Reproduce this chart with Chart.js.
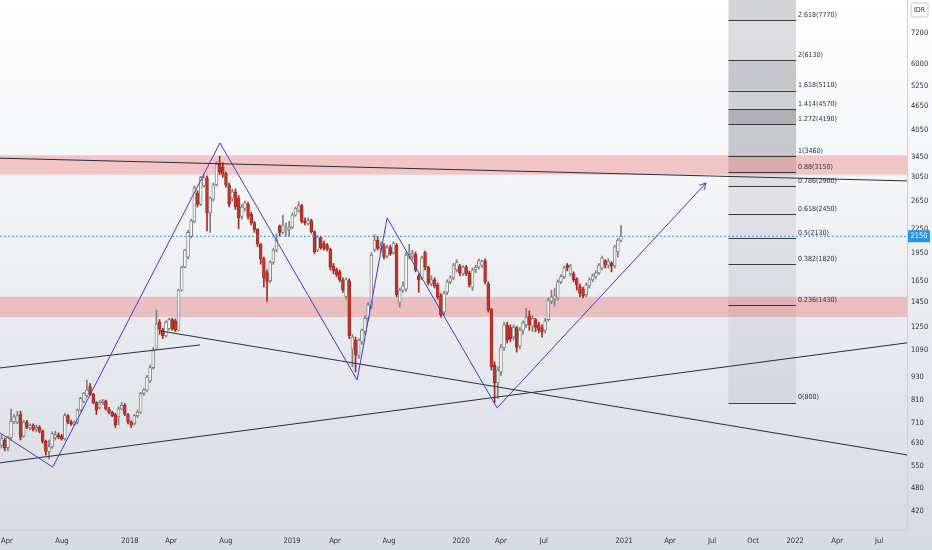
<!DOCTYPE html>
<html><head><meta charset="utf-8">
<script src="https://cdn.jsdelivr.net/npm/chart.js@4.4.0/dist/chart.umd.min.js"></script>
<style>
html,body{margin:0;padding:0;}
body{width:932px;height:550px;overflow:hidden;background:linear-gradient(to bottom,#ffffff 0%,#f1f3f6 40%,#d6dae1 100%);}
canvas{display:block}
</style>
</head><body><canvas id="c" width="932" height="550"></canvas>
<script>
// Weekly candles, index 0 = week of 27 Mar 2017
const opens = [
620,640,612,650,715,712,745,655,712,688,
698,682,690,675,635,598,615,650,660,655,
645,740,712,703,712,765,805,835,880,840,
800,775,800,808,770,755,745,735,770,788,
745,712,705,740,755,845,862,910,985,1100,
1290,1235,1190,1240,1310,1300,1230,1560,1790,1900,
2150,2350,2780,2600,2900,3040,2470,2680,2920,3300,
3250,3120,2920,2700,2800,2700,2420,2540,2600,2450,
2330,2240,2050,1880,1730,1650,1840,1980,2280,2200,
2230,2240,2270,2440,2500,2580,2360,2320,2360,2210,
1980,2130,2060,2040,1990,1800,1760,1740,1660,1500,
1650,1100,1160,1060,1150,1220,1320,1420,1980,2100,
2000,2030,1910,2010,1950,2040,1450,1560,1570,1900,
1900,1930,1700,1680,1950,1790,1620,1660,1610,1510,
1370,1540,1640,1680,1760,1800,1720,1790,1730,1590,
1760,1790,1810,1860,1620,1390,1000,900,960,1110,
1270,1250,1180,1250,1120,1230,1270,1340,1260,1310,
1270,1250,1230,1310,1460,1480,1490,1640,1690,1810,
1720,1720,1670,1600,1570,1520,1600,1660,1690,1730,
1780,1860,1810,1830,1800,1960,2100];
const highs = [
660,648,655,770,745,760,760,720,720,705,
705,700,698,680,640,640,672,675,668,662,
750,745,720,718,770,825,850,915,895,845,
805,810,815,812,778,760,750,780,800,795,
750,718,745,765,850,870,940,1000,1110,1387,
1310,1245,1300,1320,1320,1315,1570,1800,1990,2230,
2380,2900,2820,3070,3100,3080,2720,2950,3350,3460,
3330,3150,2950,2850,2850,2740,2600,2650,2630,2480,
2350,2250,2060,1900,1760,1860,2000,2180,2300,2440,
2330,2350,2470,2560,2640,2600,2400,2400,2380,2220,
2160,2150,2090,2060,2000,1830,1780,1760,1680,1680,
1670,1200,1180,1170,1240,1340,1450,1950,2170,2150,
2080,2060,2040,2040,2080,2060,1580,1640,1950,2050,
1980,1960,1720,1910,1970,1800,1700,1680,1630,1530,
1550,1660,1700,1830,1870,1820,1810,1810,1750,1780,
1810,1880,1870,1880,1640,1400,1020,990,1130,1290,
1290,1270,1270,1260,1250,1300,1400,1380,1340,1320,
1290,1270,1320,1490,1560,1580,1660,1710,1800,1830,
1820,1740,1680,1620,1590,1630,1680,1720,1750,1830,
1910,1870,1880,1850,2040,2120,2290];
const lows = [
610,600,600,640,705,705,640,650,685,680,
675,672,668,628,585,572,610,640,645,640,
640,705,698,698,705,760,800,825,835,795,
745,770,790,765,748,735,690,700,765,740,
705,690,700,732,750,835,855,900,975,1095,
1200,1170,1180,1230,1230,1220,1225,1550,1780,1880,
2130,2330,2560,2580,2880,2220,2200,2650,2900,3100,
3050,2880,2560,2650,2520,2250,2380,2500,2380,2300,
2200,2020,1820,1590,1460,1630,1820,1960,2150,2180,
2150,2150,2250,2420,2480,2330,2300,2300,2190,1940,
1960,1990,1980,1970,1760,1720,1690,1640,1540,1480,
1170,990,960,1040,1130,1200,1300,1400,1960,1980,
1960,1880,1890,1920,1930,1500,1410,1540,1550,1880,
1870,1740,1540,1660,1760,1610,1600,1580,1480,1330,
1340,1520,1620,1660,1740,1700,1700,1700,1590,1560,
1730,1770,1790,1620,1370,970,800,820,940,1090,
1140,1150,1160,1080,1100,1200,1250,1230,1220,1220,
1210,1180,1210,1300,1440,1420,1470,1620,1670,1750,
1700,1640,1560,1500,1490,1500,1580,1640,1670,1710,
1760,1780,1780,1740,1780,1900,2080];
const closes = [
645,612,650,715,735,742,650,712,690,698,
682,690,675,635,598,615,665,660,652,645,
740,712,705,712,765,820,845,862,840,800,
765,800,808,770,755,740,700,770,788,745,
712,700,740,755,845,862,930,985,1090,1275,
1240,1190,1290,1310,1240,1230,1560,1790,1980,2200,
2360,2870,2600,3050,3050,2470,2700,2920,3300,3150,
3120,2920,2600,2800,2560,2400,2560,2620,2420,2330,
2240,2050,1880,1680,1640,1840,1980,2100,2200,2290,
2260,2270,2440,2540,2580,2350,2330,2360,2210,1960,
2140,2010,2000,1990,1790,1750,1710,1660,1565,1660,
1190,1180,1060,1160,1230,1320,1430,1920,2100,2000,
2030,1900,2010,1940,2060,1520,1560,1600,1920,1930,
1940,1760,1660,1890,1790,1630,1660,1600,1500,1350,
1530,1640,1680,1810,1840,1730,1790,1720,1610,1760,
1790,1860,1850,1640,1390,990,900,970,1110,1270,
1160,1170,1250,1110,1230,1285,1330,1270,1320,1250,
1230,1220,1300,1470,1500,1510,1640,1690,1780,1780,
1800,1660,1610,1530,1510,1610,1660,1700,1730,1810,
1890,1810,1850,1800,2020,2100,2150];

// Axis (x in weekly bar index, y price IDR, log)
const xMin = -0.5, xMax = 286.5;
const yMin = 375, yMax = 8760;
const xTickPos = [1.7,19.1,40.6,53.6,71.0,91.9,105.5,122.6,145.4,158.0,171.6,197.0,211.5,224.8,237.8,251.1,264.4,277.7];
const xTickLabels = ['Apr','Aug','2018','Apr','Aug','2019','Apr','Aug','2020','Apr','Jul','2021','Apr','Jul','Oct','2022','Apr','Jul'];
const yTicks = [420,480,550,630,710,810,930,1090,1250,1450,1650,1950,2250,2650,3050,3450,4050,4650,5250,6000,7200];

// Drawings
const fibRatios = ['2.618','2','1.618','1.414','1.272','1','0.88','0.786','0.618','0.5','0.382','0.236','0'];
const fibPrices = [7770,6130,5110,4570,4190,3460,3150,2900,2450,2130,1820,1430,800];
const fibTime = [230, 251.4];
const zoneLow = [3100, 1330];
const zoneHigh = [3480, 1500];
const resistX = [-0.5, 286.5], resistY = [3420, 2988];
const supportX = [-0.5, 286.5], supportY = [559, 1141];
const channelX = [-0.5, 62.8], channelY = [983, 1127];
const fallX = [50.1, 286.5], fallY = [1225, 586];
const zigX = [-0.5, 16.2, 69.1, 112.5, 122.0, 156.8, 222.9];
const zigY = [668, 545, 3744, 915, 2398, 775, 2951];

const fibAlpha = [0.32,0.24,0.40,0.32,0.58,0.38,0.30,0.18,0.15,0.15,0.15,0.14,0.13];
const FONT = "'DejaVu Sans Condensed','Liberation Sans Narrow','Roboto',sans-serif";
const lastClose = closes[closes.length-1];
const idx = closes.map((_, i) => i);
const up = i => closes[i] >= opens[i];
const pts = (xs, ys) => xs.map((x, k) => ({x, y: ys[k]}));

const overlay = {
  id: 'overlay',
  beforeDatasetsDraw(chart) {
    const {ctx, chartArea: a, scales: {x, y}} = chart;
    ctx.save();
    ctx.beginPath(); ctx.rect(a.left, a.top, a.right - a.left, a.bottom - a.top); ctx.clip();
    const x0 = x.getPixelForValue(fibTime[0]), x1 = x.getPixelForValue(fibTime[1]);
    const lv = [yMax].concat(fibPrices);
    for (let k = 0; k < lv.length - 1; k++) {
      const yt = y.getPixelForValue(lv[k]), yb = y.getPixelForValue(lv[k+1]);
      ctx.fillStyle = 'rgba(120,123,134,' + fibAlpha[k] + ')';
      ctx.fillRect(x0, yt, x1 - x0, yb - yt);
    }
    for (let k = 0; k < zoneLow.length; k++) {
      const yt = y.getPixelForValue(zoneHigh[k]), yb = y.getPixelForValue(zoneLow[k]);
      ctx.fillStyle = 'rgba(239,83,80,0.3)';
      ctx.fillRect(a.left, yt, a.right - a.left, yb - yt);
    }
    ctx.lineWidth = 1;
    fibPrices.forEach((p, k) => {
      const yy = Math.round(y.getPixelForValue(p)) + 0.5;
      ctx.strokeStyle = fibRatios[k] === '0.236' ? '#7a1c1c' : '#3c3c3c';
      ctx.beginPath(); ctx.moveTo(x0, yy); ctx.lineTo(x1, yy); ctx.stroke();
    });
    ctx.restore();
  },
  afterDatasetsDraw(chart) {
    const {ctx, scales: {x, y}} = chart;
    ctx.save();
    const x1 = x.getPixelForValue(fibTime[1]);
    ctx.font = '7px ' + FONT;
    ctx.fillStyle = '#2a2e39';
    ctx.textAlign = 'left'; ctx.textBaseline = 'middle';
    fibPrices.forEach((p, k) => {
      ctx.fillText(fibRatios[k] + '(' + p + ')', x1 + 2, y.getPixelForValue(p) - 5);
    });
    // arrow head on zigzag end
    const n = zigX.length;
    const px = x.getPixelForValue(zigX[n-1]), py = y.getPixelForValue(zigY[n-1]);
    const qx = x.getPixelForValue(zigX[n-2]), qy = y.getPixelForValue(zigY[n-2]);
    const ang = Math.atan2(py - qy, px - qx);
    ctx.strokeStyle = '#3b3bd6'; ctx.lineWidth = 1;
    ctx.beginPath();
    ctx.moveTo(px - 7*Math.cos(ang - 0.5), py - 7*Math.sin(ang - 0.5));
    ctx.lineTo(px, py);
    ctx.lineTo(px - 7*Math.cos(ang + 0.5), py - 7*Math.sin(ang + 0.5));
    ctx.stroke();
    ctx.restore();
  },
  afterDraw(chart) {
    const {ctx, chartArea: a, scales: {y}} = chart;
    ctx.save();
    const yy = y.getPixelForValue(lastClose);
    ctx.fillStyle = '#2196f3';
    ctx.fillRect(a.right + 1, yy - 6, 22, 12);
    ctx.fillStyle = '#ffffff';
    ctx.font = '7.5px ' + FONT;
    ctx.textAlign = 'center'; ctx.textBaseline = 'middle';
    ctx.fillText(String(lastClose), a.right + 12, yy);
    // currency tag
    ctx.fillStyle = '#ffffff'; ctx.strokeStyle = '#c4c8d0';
    ctx.beginPath(); ctx.roundRect(a.right + 4, 3, 17, 14, 2); ctx.fill(); ctx.stroke();
    ctx.fillStyle = '#2a2e39'; ctx.font = '7px ' + FONT;
    ctx.fillText('IDR', a.right + 12.5, 10.5);
    ctx.restore();
  }
};

const lineDs = (label, xs, ys, color) => ({
  type: 'line', label, data: pts(xs, ys), borderColor: color, borderWidth: 1,
  pointRadius: 0, tension: 0, fill: false
});

new Chart(document.getElementById('c'), {
  type: 'bar',
  data: {
    datasets: [
      lineDs('zigzag', zigX, zigY, '#3b3bd6'),
      lineDs('resistance', resistX, resistY, '#2a2e39'),
      lineDs('support', supportX, supportY, '#2a2e39'),
      lineDs('channel', channelX, channelY, '#2a2e39'),
      lineDs('falling', fallX, fallY, '#2a2e39'),
      Object.assign(lineDs('last', [xMin, xMax], [lastClose, lastClose], '#2196f3'), {borderDash: [2, 2]}),
      {
        type: 'bar', label: 'body',
        data: idx.map(i => ({x: i, y: [opens[i], closes[i]]})),
        backgroundColor: idx.map(i => up(i) ? '#ffffff' : '#c0392b'),
        borderColor: idx.map(i => up(i) ? '#7a7a7a' : '#a5281f'),
        borderWidth: 0.9, borderSkipped: false, barThickness: 2.9, minBarLength: 1, grouped: false
      },
      {
        type: 'bar', label: 'wick',
        data: idx.map(i => ({x: i, y: [lows[i], highs[i]]})),
        backgroundColor: idx.map(i => up(i) ? '#7e7e7e' : '#a5281f'),
        borderWidth: 0, barThickness: 1, grouped: false
      }
    ]
  },
  options: {
    responsive: false, animation: false, devicePixelRatio: 1,
    layout: {padding: 0},
    plugins: {legend: {display: false}, tooltip: {enabled: false}},
    scales: {
      x: {
        type: 'linear', min: xMin, max: xMax, offset: false,
        grid: {display: false, drawTicks: false},
        border: {display: true, color: '#cdd1d8'},
        ticks: {autoSkip: false, maxRotation: 0, padding: 7, color: '#2a2e39', font: {size: 7.5, family: FONT},
          callback: (v, i) => xTickLabels[i]},
        afterBuildTicks: s => { s.ticks = xTickPos.map(v => ({value: v})); },
        afterFit: s => { s.height = 20; s.paddingLeft = 0; s.paddingRight = 0; }
      },
      y: {
        type: 'logarithmic', position: 'right', min: yMin, max: yMax,
        grid: {display: false, drawTicks: false},
        border: {display: true, color: '#cdd1d8'},
        ticks: {autoSkip: false, padding: 4, color: '#2a2e39', font: {size: 7.5, family: FONT},
          callback: v => String(v)},
        afterBuildTicks: s => { s.ticks = yTicks.map(v => ({value: v})); },
        afterFit: s => { s.width = 25; s.paddingTop = 0; s.paddingBottom = 0; }
      }
    }
  },
  plugins: [overlay]
});
</script></body></html>
